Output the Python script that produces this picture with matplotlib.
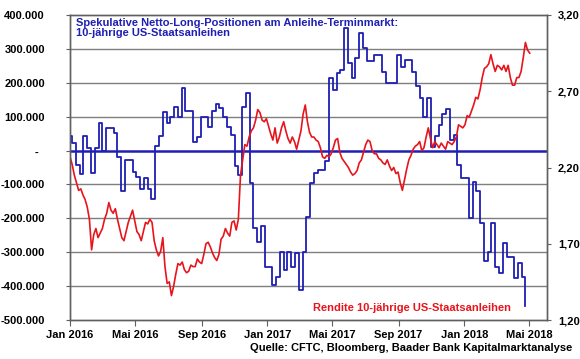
import matplotlib
matplotlib.use('Agg')
import matplotlib.pyplot as plt
import pandas as pd

plt.rcParams['font.family'] = ['Liberation Sans', 'DejaVu Sans']
plt.rcParams['font.weight'] = 'bold'

# CFTC net long positions (thousand contracts), weekly, starting 2015-12-29
cot_start = '2015-12-29'
cot_k = [
    43, 21, -42, -69, 43, 8, -66, 9, 82, 0,
    67, 67, 51, -18, -119, -28, -28, -64, -77, -113,
    -81, -113, -143, 14, 43, 113, 82, 98, 130, 98,
    184, 118, 118, 26, 40, 100, 100, 70, 118, 137,
    125, 98, 69, 46, -45, -72, 130, 171, -97, -228,
    -270, -224, -343, -343, -398, -374, -298, -353, -300, -343,
    -303, -410, -298, -195, -97, -66, -57, -57, -30, 213,
    179, 228, 238, 361, 258, 213, 272, 346, 302, 263,
    263, 282, 282, 233, 200, 200, 200, 282, 247, 267,
    267, 233, 190, 154, 100, 154, 10, 44, 75, 108,
    122, 30, 45, -42, -80, -82, -200, -92, -118, -214,
    -325, -298, -214, -343, -362, -273, -313, -313, -377, -333,
    -372, -460,
]

# 10y US treasury yield (%), every 4 days from 2016-01-01
yld_start = '2016-01-01'
yld = [
    2.27, 2.22, 2.15, 2.10, 2.05, 2.06, 2.02, 1.99, 1.94, 1.86,
    1.66, 1.76, 1.80, 1.74, 1.77, 1.80, 1.86, 1.90, 1.97, 1.92,
    1.90, 1.93, 1.86, 1.80, 1.74, 1.72, 1.78, 1.84, 1.88, 1.92,
    1.85, 1.78, 1.76, 1.72, 1.78, 1.84, 1.83, 1.86, 1.84, 1.72,
    1.66, 1.62, 1.65, 1.74, 1.55, 1.44, 1.45, 1.36, 1.42, 1.50,
    1.57, 1.56, 1.58, 1.53, 1.51, 1.52, 1.56, 1.55, 1.55, 1.60,
    1.58, 1.57, 1.63, 1.70, 1.71, 1.68, 1.64, 1.61, 1.59, 1.63,
    1.73, 1.75, 1.80, 1.77, 1.75, 1.84, 1.85, 1.79, 1.86, 2.15,
    2.25, 2.35, 2.34, 2.40, 2.44, 2.46, 2.51, 2.58, 2.56, 2.51,
    2.50, 2.52, 2.47, 2.42, 2.38, 2.46, 2.36, 2.40, 2.46, 2.50,
    2.44, 2.39, 2.36, 2.40, 2.37, 2.32, 2.38, 2.44, 2.55, 2.61,
    2.50, 2.43, 2.40, 2.40, 2.38, 2.37, 2.33, 2.27, 2.26, 2.28,
    2.27, 2.29, 2.33, 2.38, 2.39, 2.30, 2.26, 2.24, 2.22, 2.20,
    2.17, 2.15, 2.16, 2.18, 2.23, 2.25, 2.30, 2.35, 2.38, 2.37,
    2.31, 2.29, 2.29, 2.26, 2.25, 2.23, 2.22, 2.25, 2.21, 2.18,
    2.20, 2.16, 2.17, 2.10, 2.05, 2.12, 2.19, 2.25, 2.28, 2.32,
    2.34, 2.35, 2.37, 2.31, 2.33, 2.40, 2.46, 2.39, 2.33, 2.37,
    2.35, 2.33, 2.36, 2.34, 2.32, 2.37, 2.36, 2.35, 2.37, 2.40,
    2.48, 2.47, 2.46, 2.48, 2.54, 2.53, 2.57, 2.61, 2.66, 2.65,
    2.71, 2.79, 2.85, 2.86, 2.88, 2.94, 2.88, 2.83, 2.87, 2.86,
    2.84, 2.87, 2.83, 2.87, 2.79, 2.74, 2.74, 2.79, 2.79, 2.83,
    2.92, 3.02, 2.97, 2.95,
]

left_ticks_k = [400, 300, 200, 100, 0, -100, -200, -300, -400, -500]
right_ticks = [1.20, 1.70, 2.20, 2.70, 3.20]
month_ticks = ['2016-01-01', '2016-05-01', '2016-09-01', '2017-01-01',
               '2017-05-01', '2017-09-01', '2018-01-01', '2018-05-01']
month_labels = ['Jan 2016', 'Mai 2016', 'Sep 2016', 'Jan 2017',
                'Mai 2017', 'Sep 2017', 'Jan 2018', 'Mai 2018']

BLUE = '#1f1fb4'
RED = '#e8141c'
GRID = '#7f7f7f'

cot = pd.Series([v * 1000 for v in cot_k],
                index=pd.date_range(cot_start, periods=len(cot_k), freq='7D'))
rate = pd.Series(yld, index=pd.date_range(yld_start, periods=len(yld), freq='4D'))

fig = plt.figure(figsize=(5.8, 3.59), dpi=100)
ax = fig.add_axes([70 / 580, 1 - 320 / 359, 477 / 580, 305 / 359])

ax.set_ylim(-500000, 400000)
ax.set_yticks([v * 1000 for v in left_ticks_k])
ax.set_yticklabels([f'{v * 1000:,}'.replace(',', '.') if v else '-  ' for v in left_ticks_k])
for v in left_ticks_k:
    if v not in (0, 400, -500):
        ax.axhline(v * 1000, color=GRID, lw=1, zorder=1)
ax.axhline(0, color=BLUE, lw=1.8, zorder=2)

ax.step(cot.index, cot.values, where='post', color=BLUE, lw=1.3, zorder=3)

ax.set_xlim(pd.Timestamp('2016-01-01'), pd.Timestamp('2018-06-03'))
ax.set_xticks(pd.to_datetime(month_ticks))
ax.set_xticklabels(month_labels)

ax2 = ax.twinx()
ax2.plot(rate.index, rate.values, color=RED, lw=1.2)
ax2.set_ylim(1.2, 3.2)
ax2.set_yticks(right_ticks)
ax2.set_yticklabels([f'{v:.2f}'.replace('.', ',') for v in right_ticks])

for a in (ax, ax2):
    for s in a.spines.values():
        s.set_color('#606060')
        s.set_linewidth(1)
ax.tick_params(axis='y', length=3, color='#606060', labelsize=8, pad=15)
ax.tick_params(axis='x', length=4, color='#606060', labelsize=8, pad=3)
ax2.tick_params(axis='y', length=3, color='#606060', labelsize=8, pad=5)

ax.text(0.012, 0.99, 'Spekulative Netto-Long-Positionen am Anleihe-Terminmarkt:\n10-jährige US-Staatsanleihen',
        transform=ax.transAxes, color=BLUE, fontsize=8, fontweight='bold',
        va='top', ha='left', linespacing=1.0)
ax.text(0.51, 0.04, 'Rendite 10-jährige US-Staatsanleihen', transform=ax.transAxes,
        color=RED, fontsize=8, fontweight='bold', va='center', ha='left')
fig.text(572 / 580, 1 - 348 / 359, 'Quelle: CFTC, Bloomberg, Baader Bank Kapitalmarktanalyse',
         fontsize=8, fontweight='bold', ha='right', va='center')

fig.savefig('out.png', dpi=100)
